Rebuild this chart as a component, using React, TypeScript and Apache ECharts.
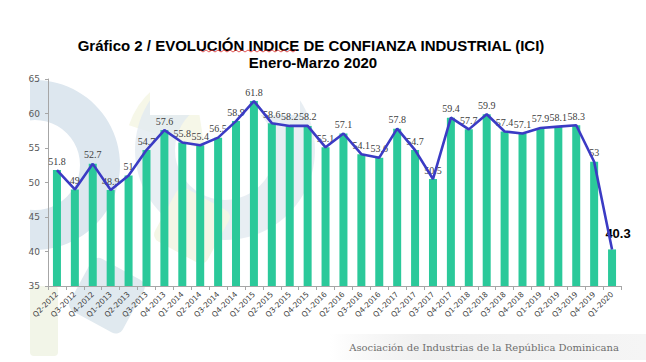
import React, { useEffect, useRef } from "react";
import * as echarts from "echarts";

const categories = [
  "Q2-2012", "Q3-2012", "Q4-2012", "Q1-2013", "Q2-2013", "Q3-2013", "Q4-2013",
  "Q1-2014", "Q2-2014", "Q3-2014", "Q4-2014", "Q1-2015", "Q2-2015", "Q3-2015",
  "Q4-2015", "Q1-2016", "Q2-2016", "Q3-2016", "Q4-2016", "Q1-2017", "Q2-2017",
  "Q3-2017", "Q4-2017", "Q1-2018", "Q2-2018", "Q3-2018", "Q4-2018", "Q1-2019",
  "Q2-2019", "Q3-2019", "Q4-2019", "Q1-2020",
];
const iciValues = [
  51.8, 49, 52.7, 48.9, 51, 54.7, 57.6, 55.8, 55.4, 56.5, 58.9, 61.8, 58.6, 58.2,
  58.2, 55.1, 57.1, 54.1, 53.6, 57.8, 54.7, 50.5, 59.4, 57.7, 59.9, 57.4, 57.1,
  57.9, 58.1, 58.3, 53, 40.3,
];
const yMin = 35;
const yMax = 65;
const yInterval = 5;

const titleLine1 = "Gráfico 2 / EVOLUCIÓN INDICE DE CONFIANZA INDUSTRIAL (ICI)";
const titleLine2 = "Enero-Marzo 2020";
const footer = "Asociación de Industrias de la República Dominicana";

export default function App() {
  const ref = useRef<HTMLDivElement>(null);
  useEffect(() => {
    document.body.style.margin = "0";
    const chart = echarts.init(ref.current!, null, { renderer: "svg" });
    const last = iciValues.length - 1;
    const barData = iciValues.map((v, i) =>
      i === last
        ? {
            value: v,
            label: {
              show: true,
              position: [10, -9],
              align: "center",
              verticalAlign: "bottom",
              fontSize: 13,
              fontWeight: "bold",
              color: "#000",
              fontFamily: "Liberation Sans",
            },
          }
        : v
    );
    // red spell-check squiggle under "INDICE"
    const squiggle: number[][] = [];
    for (let i = 0; i <= 32; i++) squiggle.push([200 + i * 3, i % 2 === 0 ? 50 : 52]);

    chart.setOption({
      animation: false,
      backgroundColor: "#ffffff",
      grid: { left: 48, right: 25, top: 79, bottom: 76, containLabel: false },
      graphic: [
        { type: "ring", shape: { cx: 35, cy: 165, r: 85, r0: 45 }, style: { fill: "#dde7ef" }, z: 0 },
        { type: "rect", shape: { x: 0, y: 60, width: 30, height: 300 }, style: { fill: "#ffffff" }, z: 0 },
        { type: "sector", shape: { cx: 205, cy: 150, r: 80, r0: 0, startAngle: -Math.PI * 0.9, endAngle: -Math.PI * 0.55 }, style: { fill: "#f6f7e8" }, z: 0 },
        { type: "ring", shape: { cx: 225, cy: 150, r: 90, r0: 50 }, style: { fill: "#e2eaf0", opacity: 0.8 }, z: 0 },
        { type: "rect", shape: { x: 150, y: 60, width: 150, height: 55 }, style: { fill: "#ffffff" }, z: 0 },
        { type: "rect", shape: { x: 0, y: 0, width: 60, height: 60, r: 8 }, x: 180, y: 185, rotation: -0.5, style: { fill: "#f4f6e6" }, z: 0 },
        { type: "rect", shape: { x: 0, y: 0, width: 60, height: 60, r: 8 }, x: 95, y: 255, rotation: -0.5, style: { fill: "#e0e9ef" }, z: 0 },
        { type: "rect", shape: { x: 30, y: 286, width: 28, height: 70, r: 4 }, style: { fill: "#f2f5e8" }, z: 0 },
        {
          type: "rect",
          shape: { x: 330, y: 334, width: 316, height: 26 },
          style: {
            fill: new echarts.graphic.LinearGradient(0, 0, 1, 0, [
              { offset: 0, color: "rgba(235,235,235,0)" },
              { offset: 0.3, color: "rgba(240,240,240,1)" },
              { offset: 1, color: "rgba(245,245,245,1)" },
            ]),
          },
          z: 0,
        },
        {
          type: "text",
          x: 311,
          y: 45,
          style: {
            text: titleLine1,
            fontFamily: "Liberation Sans",
            fontWeight: "bold",
            fontSize: 15,
            fill: "#000",
            textAlign: "center",
            textVerticalAlign: "middle",
          },
          z: 10,
        },
        {
          type: "text",
          x: 313,
          y: 62,
          style: {
            text: titleLine2,
            fontFamily: "Liberation Sans",
            fontWeight: "bold",
            fontSize: 15,
            fill: "#000",
            textAlign: "center",
            textVerticalAlign: "middle",
          },
          z: 10,
        },
        {
          type: "polyline",
          shape: { points: squiggle },
          style: { stroke: "#e03030", lineWidth: 0.8, fill: "none" },
          z: 10,
        },
        {
          type: "text",
          x: 484,
          y: 347,
          style: {
            text: footer,
            fontFamily: "DejaVu Serif",
            fontSize: 10,
            fill: "#6e6e6e",
            textAlign: "center",
            textVerticalAlign: "middle",
          },
          z: 10,
        },
      ],
      xAxis: {
        type: "category",
        data: categories,
        boundaryGap: true,
        axisLine: { lineStyle: { color: "#a6a6a6", width: 1 } },
        axisTick: { show: true, interval: 0, length: 4, lineStyle: { color: "#a6a6a6" } },
        axisLabel: {
          interval: 0,
          rotate: 45,
          fontSize: 7.5,
          color: "#404040",
          fontFamily: "DejaVu Sans",
          margin: 7,
        },
        splitLine: { show: false },
      },
      yAxis: {
        type: "value",
        min: yMin,
        max: yMax,
        interval: yInterval,
        axisLine: { show: true, lineStyle: { color: "#a6a6a6", width: 1 } },
        axisTick: { show: true, length: 3, lineStyle: { color: "#a6a6a6" } },
        axisLabel: { fontSize: 9, color: "#595959", fontFamily: "DejaVu Sans", margin: 8 },
        splitLine: { show: false },
      },
      series: [
        {
          type: "bar",
          data: barData,
          barWidth: 8,
          itemStyle: { color: "#2bc99a" },
          label: {
            show: true,
            position: "top",
            distance: 4,
            fontSize: 10,
            color: "#404040",
            fontFamily: "Liberation Sans Narrow",
          },
          labelLayout: { hideOverlap: false },
          z: 2,
        },
        {
          type: "line",
          data: iciValues,
          symbol: "none",
          lineStyle: { color: "#3b3bc4", width: 2.6 },
          z: 3,
        },
      ],
    });
    return () => chart.dispose();
  }, []);
  return <div ref={ref} style={{ width: 646, height: 362 }} />;
}
